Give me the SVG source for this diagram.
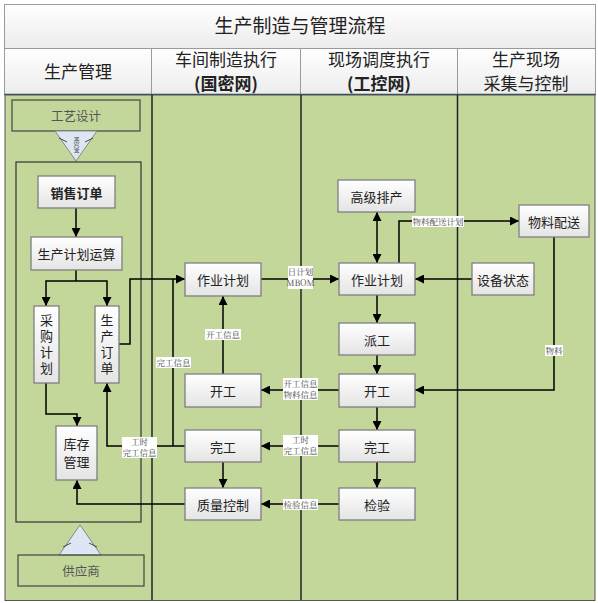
<svg xmlns="http://www.w3.org/2000/svg" width="598" height="603" viewBox="0 0 598 603">
<defs>
<linearGradient id="ng" x1="0" y1="0" x2="0" y2="1"><stop offset="0" stop-color="#ffffff"/><stop offset="1" stop-color="#e4e4e4"/></linearGradient>
<linearGradient id="hg" x1="0" y1="0" x2="0" y2="1"><stop offset="0" stop-color="#ffffff"/><stop offset="1" stop-color="#ececec"/></linearGradient>
<marker id="ar" viewBox="0 0 10 10" refX="10" refY="5" markerWidth="9" markerHeight="9" markerUnits="userSpaceOnUse" orient="auto-start-reverse"><path d="M0,0 L10,5 L0,10 z" fill="#000"/></marker>
</defs>
<style>
.hd{fill:url(#hg);stroke:#9a9a9a;stroke-width:1}
.ht{font-family:"Noto Sans CJK SC",sans-serif;font-size:17px;fill:#222;text-anchor:middle}
.hb{font-weight:bold}
.nd{fill:url(#ng);stroke:#7f7f7f;stroke-width:1.3}
.nt{font-family:"Noto Sans CJK SC",sans-serif;font-size:13px;fill:#222;text-anchor:middle;dominant-baseline:central}
.vt{font-family:"Noto Sans CJK SC",sans-serif;font-size:13px;fill:#222;text-anchor:middle;writing-mode:vertical-rl;letter-spacing:3px}
.gb{fill:none;stroke:#444;stroke-width:1.2}
.gt{font-family:"Noto Sans CJK SC",sans-serif;font-size:12.5px;fill:#555;text-anchor:middle;dominant-baseline:central}
.ln{fill:none;stroke:#000;stroke-width:1.5}
.ae{marker-end:url(#ar)}
.lb{fill:#fff}
.lt{font-family:"Noto Serif CJK SC","Noto Sans CJK SC",serif;font-size:8.5px;fill:#444;text-anchor:middle}
.cl{stroke:#222;stroke-width:1.5}
.tri{fill:#dde7f3;stroke:#888;stroke-width:1}
</style>
<!-- title & headers -->
<rect class="hd" x="4.5" y="4.5" width="591" height="44"/>
<text class="ht" x="300" y="33" style="font-size:19px">生产制造与管理流程</text>
<rect class="hd" x="4.5" y="48.5" width="147" height="46"/>
<rect class="hd" x="151.5" y="48.5" width="149" height="46"/>
<rect class="hd" x="300.5" y="48.5" width="157" height="46"/>
<rect class="hd" x="457.5" y="48.5" width="138" height="46"/>
<line x1="4.5" y1="94.5" x2="595.5" y2="94.5" stroke="#2b4a5c" stroke-width="1.5"/>
<text class="ht" x="78" y="78">生产管理</text>
<text class="ht" x="226" y="66">车间制造执行</text>
<text class="ht hb" x="226" y="90">(国密网)</text>
<text class="ht" x="379" y="66">现场调度执行</text>
<text class="ht hb" x="379" y="90">(工控网)</text>
<text class="ht" x="526" y="66">生产现场</text>
<text class="ht" x="526" y="90">采集与控制</text>
<!-- body -->
<rect x="5" y="95" width="590" height="505.5" fill="#c4d79b" stroke="#555" stroke-width="1"/>
<line class="cl" x1="152" y1="95" x2="152" y2="600"/>
<line class="cl" x1="301" y1="95" x2="301" y2="600"/>
<line class="cl" x1="457.5" y1="95" x2="457.5" y2="600"/>
<rect x="16" y="162" width="125" height="360" fill="none" stroke="#333" stroke-width="1.2"/>
<g id="n_gyjs"><rect class="gb" x="12" y="100" width="128" height="31"/><text class="gt" x="76" y="115.5">工艺设计</text></g>
<g id="n_mbom">
<polygon class="tri" points="55,131 97,131 76,161"/>
<path d="M59,138 L67,142 M93,138 L85,142" stroke="#444" stroke-width="1" fill="none"/>
<text x="0" y="0" transform="translate(76,145) rotate(90)" font-family="'Noto Sans CJK SC',sans-serif" font-size="5.5px" fill="#444" text-anchor="middle" dominant-baseline="central">MBOM</text>
</g>
<g id="n_supply_arrow">
<polygon class="tri" points="59,555 101,555 80,525"/>
<path d="M63,547 L71,543 M97,547 L89,543" stroke="#444" stroke-width="1" fill="none"/>
</g>
<g id="n_gys"><rect class="gb" x="18" y="555" width="126" height="31"/><text class="gt" x="81" y="570.5">供应商</text></g>
<!-- connectors -->
<g id="connectors">
<path class="ln ae" d="M76,208 V237"/>
<path class="ln" d="M76,270 V281"/>
<path class="ln ae" d="M76,281 H46 V306"/>
<path class="ln ae" d="M76,281 H107 V306"/>
<path class="ln ae" d="M46,383 V414 H77 V426"/>
<path class="ln ae" d="M119,344 H130 V279 H185"/>
<path class="ln ae" d="M185,446 H107 V383"/>
<path class="ln" d="M173,446 V279"/>
<path class="ln ae" d="M223,374 V296"/>
<path class="ln ae" d="M185,504 H77 V480"/>
<path class="ln ae" d="M261,279 H339"/>
<path class="ln ae" d="M339,390 H261"/>
<path class="ln ae" d="M339,446 H261"/>
<path class="ln ae" d="M339,504 H261"/>
<path class="ln ae" d="M377,212 V263" style="marker-start:url(#ar)"/>
<path class="ln ae" d="M399,263 V221 H519"/>
<path class="ln ae" d="M472,279 H415"/>
<path class="ln ae" d="M377,295 V323"/>
<path class="ln ae" d="M377,355 V374"/>
<path class="ln ae" d="M554,237 V390 H415"/>
<path class="ln ae" d="M377,407 V430"/>
<path class="ln ae" d="M377,462 V488"/>
<path class="ln ae" d="M223,462 V488"/>
<!-- labels -->
<rect class="lb" x="288" y="266" width="25" height="23"/>
<text class="lt" x="300.5" y="275"><tspan x="300.5">日计划</tspan><tspan x="300.5" dy="11">MBOM</tspan></text>
<rect class="lb" x="283" y="378" width="35" height="22"/>
<text class="lt" x="300.5" y="386.5"><tspan x="300.5">开工信息</tspan><tspan x="300.5" dy="11">物料信息</tspan></text>
<rect class="lb" x="283" y="435" width="35" height="21"/>
<text class="lt" x="300.5" y="443"><tspan x="300.5">工时</tspan><tspan x="300.5" dy="11">完工信息</tspan></text>
<rect class="lb" x="283" y="499" width="35" height="11"/>
<text class="lt" x="300.5" y="507.5">检验信息</text>
<rect class="lb" x="122" y="437" width="35" height="21"/>
<text class="lt" x="139.5" y="445"><tspan x="139.5">工时</tspan><tspan x="139.5" dy="11">完工信息</tspan></text>
<rect class="lb" x="156" y="357" width="35" height="11"/>
<text class="lt" x="173.5" y="365.5">完工信息</text>
<rect class="lb" x="205" y="329" width="36" height="11"/>
<text class="lt" x="223" y="337.5">开工信息</text>
<rect class="lb" x="412" y="216" width="52" height="11"/>
<text class="lt" x="438" y="224.5">物料配送计划</text>
<rect class="lb" x="545" y="345" width="18" height="11"/>
<text class="lt" x="554" y="353.5">物料</text>
</g>
<!-- nodes -->
<g id="n_xsdd"><rect class="nd" x="38" y="176" width="77" height="32"/><text class="nt" x="76.5" y="192" font-weight="bold">销售订单</text></g>
<g id="n_scjhys"><rect class="nd" x="31" y="237" width="91" height="33"/><text class="nt" x="76.5" y="253.5">生产计划运算</text></g>
<g id="n_cgjh"><rect class="nd" x="34" y="306" width="25" height="77"/>
<text class="vt" x="46.5" y="345.5">采购计划</text></g>
<g id="n_scdd"><rect class="nd" x="95" y="306" width="24" height="77"/>
<text class="vt" x="107" y="345.5">生产订单</text></g>
<g id="n_kcgl"><rect class="nd" x="56" y="426" width="41" height="54"/>
<text class="nt" x="76.5" y="443"><tspan x="76.5">库存</tspan><tspan x="76.5" dy="18">管理</tspan></text></g>
<g id="n_zyjh1"><rect class="nd" x="185" y="263" width="76" height="33"/><text class="nt" x="223" y="279.5">作业计划</text></g>
<g id="n_kg1"><rect class="nd" x="185" y="374" width="76" height="33"/><text class="nt" x="223" y="390.5">开工</text></g>
<g id="n_wg1"><rect class="nd" x="185" y="430" width="76" height="32"/><text class="nt" x="223" y="446">完工</text></g>
<g id="n_zlkz"><rect class="nd" x="185" y="488" width="76" height="32"/><text class="nt" x="223" y="504">质量控制</text></g>
<g id="n_gjpc"><rect class="nd" x="338" y="180" width="77" height="32"/><text class="nt" x="376.5" y="196">高级排产</text></g>
<g id="n_zyjh2"><rect class="nd" x="339" y="263" width="76" height="32"/><text class="nt" x="377" y="279">作业计划</text></g>
<g id="n_pg"><rect class="nd" x="339" y="323" width="76" height="32"/><text class="nt" x="377" y="339">派工</text></g>
<g id="n_kg2"><rect class="nd" x="339" y="374" width="76" height="33"/><text class="nt" x="377" y="390.5">开工</text></g>
<g id="n_wg2"><rect class="nd" x="339" y="430" width="76" height="32"/><text class="nt" x="377" y="446">完工</text></g>
<g id="n_jy"><rect class="nd" x="339" y="488" width="76" height="32"/><text class="nt" x="377" y="504">检验</text></g>
<g id="n_wlps"><rect class="nd" x="519" y="205" width="70" height="32"/><text class="nt" x="554" y="221">物料配送</text></g>
<g id="n_sbzt"><rect class="nd" x="472" y="263" width="62" height="32"/><text class="nt" x="503" y="279">设备状态</text></g>
</svg>
